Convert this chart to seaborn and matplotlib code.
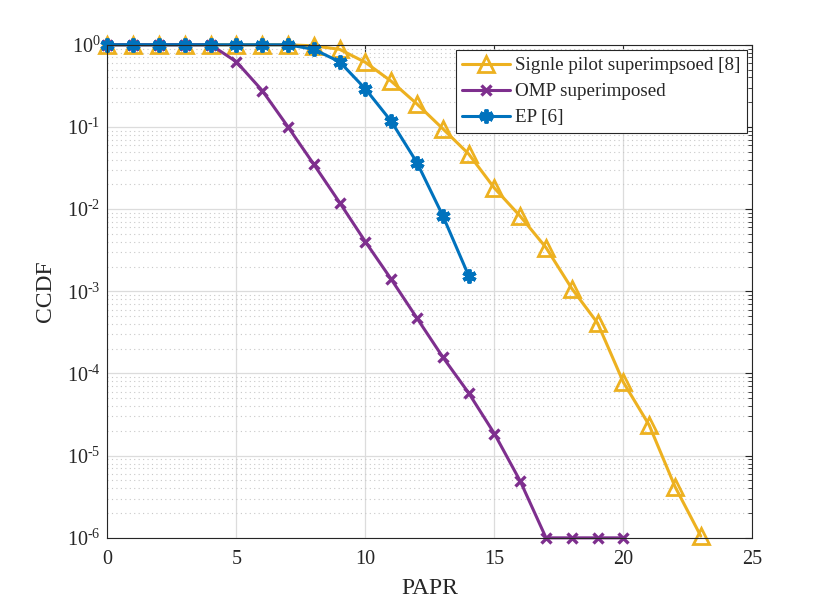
import numpy as np
import pandas as pd
import seaborn as sns
import matplotlib
matplotlib.use("Agg")
import matplotlib.pyplot as plt
from matplotlib.ticker import LogLocator, FixedLocator, NullFormatter, FuncFormatter

# ---- data ----
papr_single = list(range(0, 24))
ccdf_single = [1, 1, 1, 1, 1, 1, 1, 1, 0.97, 0.88, 0.61, 0.36, 0.19, 0.095, 0.047,
               0.018, 0.0082, 0.0034, 0.00108, 4.1e-4, 7.8e-5, 2.35e-5, 4.2e-6, 1.05e-6]
papr_omp = list(range(0, 21))
ccdf_omp = [1, 1, 1, 1, 1, 0.62, 0.277, 0.10, 0.035, 0.012, 0.0040, 0.0014, 4.7e-4,
            1.58e-4, 5.8e-5, 1.85e-5, 4.9e-6, 1e-6, 1e-6, 1e-6, 1e-6]
papr_ep = list(range(0, 15))
ccdf_ep = [1, 1, 1, 1, 1, 1, 1, 1, 0.88, 0.62, 0.29, 0.117, 0.0367, 0.0083, 0.00155]

labels = ["Signle pilot superimpsoed [8]", "OMP superimposed", "EP [6]"]
colors = ["#EDB120", "#7E2F8E", "#0072BD"]
xticks = [0, 5, 10, 15, 20, 25]

sns.set_theme(style="white")
plt.rcParams["font.family"] = ["Liberation Serif", "DejaVu Serif"]
plt.rcParams["mathtext.fontset"] = "custom"
plt.rcParams["mathtext.rm"] = "Liberation Serif"
plt.rcParams["mathtext.it"] = "Liberation Serif:italic"

fig = plt.figure(figsize=(8.3, 6.05), dpi=100)
ax = fig.add_axes([0.1295, 0.111, 0.777, 0.815])

sns.lineplot(x=papr_single, y=ccdf_single, ax=ax, color=colors[0], linewidth=2.2,
             marker="^", markersize=11.5, markerfacecolor="none", markeredgecolor=colors[0],
             markeredgewidth=2.0, label=labels[0])
sns.lineplot(x=papr_omp, y=ccdf_omp, ax=ax, color=colors[1], linewidth=2.2,
             marker="x", markersize=6.5, markeredgewidth=2.4, markeredgecolor=colors[1],
             label=labels[1])
sns.lineplot(x=papr_ep, y=ccdf_ep, ax=ax, color=colors[2], linewidth=2.2,
             marker=(6, 2, 0), markersize=10, markeredgewidth=2.8,
             markeredgecolor=colors[2], label=labels[2])

ax.set_yscale("log")
ax.set_xlim(0, 25)
ax.set_ylim(1e-6, 1)
ax.xaxis.set_major_locator(FixedLocator(xticks))
ax.yaxis.set_major_locator(LogLocator(base=10, numticks=10))
ax.yaxis.set_minor_locator(LogLocator(base=10, subs=np.arange(2, 10), numticks=20))
ax.yaxis.set_minor_formatter(NullFormatter())

def fmt(v, pos):
    e = int(round(np.log10(v)))
    if e < 0:
        return r"$10^{\text{-}%d}$" % (-e)
    return r"$10^{%d}$" % e

ax.yaxis.set_major_formatter(FuncFormatter(fmt))
ax.xaxis.get_offset_text().set_visible(False)
ax.yaxis.get_offset_text().set_visible(False)

ax.grid(True, which="major", color="#dcdcdc", linewidth=0.9, linestyle="-")
ax.grid(True, which="minor", axis="y", color="#c8c8c8", linewidth=0.8, linestyle=(0, (1, 3)))
ax.set_axisbelow(True)

ax.tick_params(which="both", direction="in", top=True, right=True, colors="#262626",
               labelcolor="#262626", labelsize=14.5)
ax.tick_params(axis="x", which="major", pad=9)
ax.tick_params(axis="y", which="major", pad=5)
ax.tick_params(which="major", length=5, width=0.8)
ax.tick_params(which="minor", length=3, width=0.6)
for s in ax.spines.values():
    s.set_color("#262626")
    s.set_linewidth(0.8)

ax.set_xlabel("PAPR", fontsize=17, color="#262626", labelpad=6)
ax.set_ylabel("CCDF", fontsize=17, color="#262626", labelpad=8)

leg = ax.legend(loc="upper right", fontsize=13.7, frameon=True, fancybox=False,
                edgecolor="#262626", framealpha=1, borderpad=0.35, labelspacing=0.45,
                handlelength=2.5, handletextpad=0.25, borderaxespad=0.3)
leg.get_frame().set_linewidth(0.8)
for line in ax.get_lines():
    line.set_clip_on(False)

fig.savefig("out.png", dpi=100, facecolor="white")
